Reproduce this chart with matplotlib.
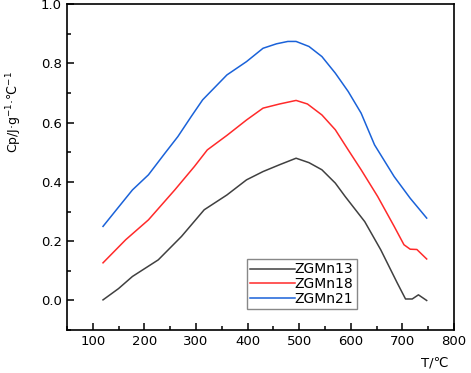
import matplotlib
matplotlib.use("Agg")
import matplotlib.pyplot as plt
from matplotlib.ticker import MultipleLocator

plt.rcParams['font.family'] = ['DejaVu Sans']

# values (T in deg C, Cp in J/g/C)
t_13 = [120, 150, 177, 227, 272, 316, 360, 398, 430, 462, 494, 519, 544, 570, 589,
        627, 658, 690, 706, 719, 731, 747]
cp_13 = [0.002, 0.040, 0.081, 0.137, 0.216, 0.306, 0.356, 0.407, 0.435, 0.458, 0.480, 0.465, 0.441, 0.396, 0.351,
         0.266, 0.171, 0.059, 0.005, 0.005, 0.019, 0.0]

t_18 = [120, 164, 208, 259, 297, 322, 360, 398, 430, 462, 494, 516, 544, 570, 595,
        620, 652, 684, 703, 715, 728, 747]
cp_18 = [0.127, 0.205, 0.272, 0.373, 0.452, 0.508, 0.557, 0.609, 0.649, 0.663, 0.675, 0.663, 0.626, 0.576, 0.508,
         0.441, 0.351, 0.250, 0.188, 0.173, 0.172, 0.140]

t_21 = [120, 151, 177, 208, 240, 265, 291, 313, 360, 398, 430, 456, 478, 494, 519,
        544, 570, 595, 620, 646, 684, 715, 747]
cp_21 = [0.250, 0.317, 0.373, 0.424, 0.497, 0.553, 0.621, 0.677, 0.761, 0.806, 0.851, 0.866, 0.874, 0.874, 0.857,
         0.823, 0.767, 0.705, 0.632, 0.525, 0.418, 0.345, 0.278]

labels = ['ZGMn13', 'ZGMn18', 'ZGMn21']
colors = ['#404040', '#ff2a2a', '#1a62d9']

fig = plt.figure(figsize=(4.71, 3.73), dpi=100)
ax = fig.add_axes([0.142, 0.115, 0.822, 0.874])

for t, cp, lab, c in zip([t_13, t_18, t_21], [cp_13, cp_18, cp_21], labels, colors):
    ax.plot(t, cp, color=c, lw=1.1, label=lab)

ax.set_xlim(50, 800)
ax.set_ylim(-0.1, 1.0)
ax.xaxis.set_major_locator(MultipleLocator(100))
ax.xaxis.set_minor_locator(MultipleLocator(50))
ax.yaxis.set_major_locator(MultipleLocator(0.2))
ax.yaxis.set_minor_locator(MultipleLocator(0.1))
ax.tick_params(which='both', direction='in', labelsize=9.5, width=1.1)
ax.tick_params(which='major', length=5)
ax.tick_params(which='minor', length=3)
for s in ax.spines.values():
    s.set_linewidth(1.2)

ax.text(0.95, -0.10, 'T/℃', transform=ax.transAxes, ha='center', va='center', fontsize=9.5)
fig.text(0.03, 0.70, 'Cp/J·g$^{-1}$·℃$^{-1}$', rotation=90, ha='center', va='center', fontsize=9)

leg = ax.legend(loc='lower left', bbox_to_anchor=(0.465, 0.064), borderaxespad=0,
                fancybox=False, edgecolor='#888888', fontsize=10, handlelength=3.2,
                handletextpad=0.0, labelspacing=0.05, borderpad=0.25, framealpha=1)
leg.get_frame().set_linewidth(1.0)

fig.savefig('out.png', dpi=100)
